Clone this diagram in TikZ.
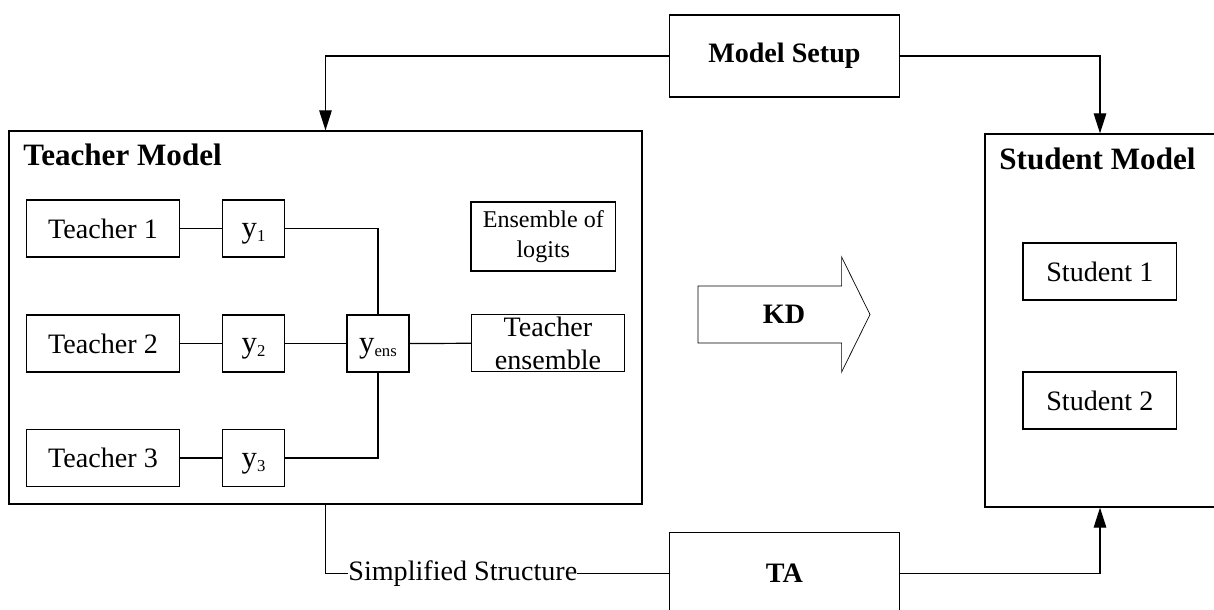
\documentclass[tikz,border=0pt]{standalone}
\usepackage{fontspec}
\setmainfont{Liberation Serif}
\usetikzlibrary{arrows.meta}
\newcommand{\ysub}[1]{y\raisebox{-0.8mm}{\fontsize{9.5}{11}\selectfont #1}}
\begin{document}
\begin{tikzpicture}[x=0.2mm,y=-0.2mm,
  box/.style={draw, line width=0.7pt, inner sep=0pt, font=\fontsize{16}{19}\selectfont},
  tbox/.style={box, minimum width=30.7mm, minimum height=11.4mm},
  ybox/.style={box, minimum width=12.4mm, minimum height=11.4mm,
    text height=4mm, text depth=0.3mm, font=\fontsize{17.5}{20}\selectfont},
  title/.style={anchor=base west, inner sep=0pt, font=\bfseries\fontsize{17.7}{20}\selectfont},
  wire/.style={draw, line width=0.7pt},
  arr/.style={wire, -{Triangle[length=4mm,width=2.5mm]}}]
\clip (0,0) rectangle (1214,610);

\node[box, minimum width=126.6mm, minimum height=74.6mm] (tm) at (325.5,317.5) {};
\node[box, minimum width=46mm, minimum height=74.6mm] (sm) at (1100,320.5) {};
\node[title] (tmt) at (23,165) {Teacher Model};
\node[title] (smt) at (999,169) {Student Model};

\node[tbox] (t1) at (103,228.5) {Teacher 1};
\node[tbox] (t2) at (103,343.5) {Teacher 2};
\node[tbox] (t3) at (103,458) {Teacher 3};
\node[ybox] (y1) at (253.6,228.5) {\ysub{1}};
\node[ybox] (y2) at (253.6,343.5) {\ysub{2}};
\node[ybox] (y3) at (253.6,458) {\ysub{3}};
\node[ybox] (ens) at (378,343.5) {\ysub{ens}};
\node[box, align=center, font=\fontsize{13.7}{17}\selectfont,
      minimum width=28.9mm, minimum height=13.8mm] (el) at (543.3,236.5) {Ensemble of\\logits};
\node[box, minimum width=30.5mm, minimum height=11.4mm] (te) at (548,343.2) {};
\node[align=center, inner sep=0pt, font=\fontsize{16}{18.8}\selectfont] (tetext) at (te.center) {Teacher\\ensemble};

\node[tbox] (s1) at (1099.8,271.5) {Student 1};
\node[tbox] (s2) at (1099.8,400.5) {Student 2};

\node[box, font=\bfseries\fontsize{16}{19}\selectfont, minimum width=46mm, minimum height=16.4mm] (ms) at (784.4,56) {Model Setup};
\node[box, font=\bfseries\fontsize{16}{19}\selectfont, minimum width=46mm, minimum height=16.4mm] (ta) at (784.4,573.3) {TA};

% KD arrow
\draw[line width=0.4pt] (698,286) -- (841.6,286) -- (841.6,257) -- (870,314.5)
  -- (841.6,372) -- (841.6,343) -- (698,343) -- cycle;
\node[font=\bfseries\fontsize{16}{19}\selectfont] (kd) at (784,314.5) {KD};

\path[wire] (t1) -- (y1);
\path[wire] (t2) -- (y2);
\path[wire] (t3) -- (y3);
\path[wire] (y1) -| (ens);
\path[wire] (y2) -- (ens);
\path[wire] (y3) -| (ens);
\path[wire] (ens) -- (te);

\path[arr] (ms) -| (tm);
\path[arr] (ms) -| (sm);
\path[wire] (tm) |- node[pos=0.7, fill=white, inner sep=0pt, font=\fontsize{16}{19}\selectfont] (ss) {Simplified Structure} (ta);
\path[arr] (ta) -| (sm);
\end{tikzpicture}
\end{document}
